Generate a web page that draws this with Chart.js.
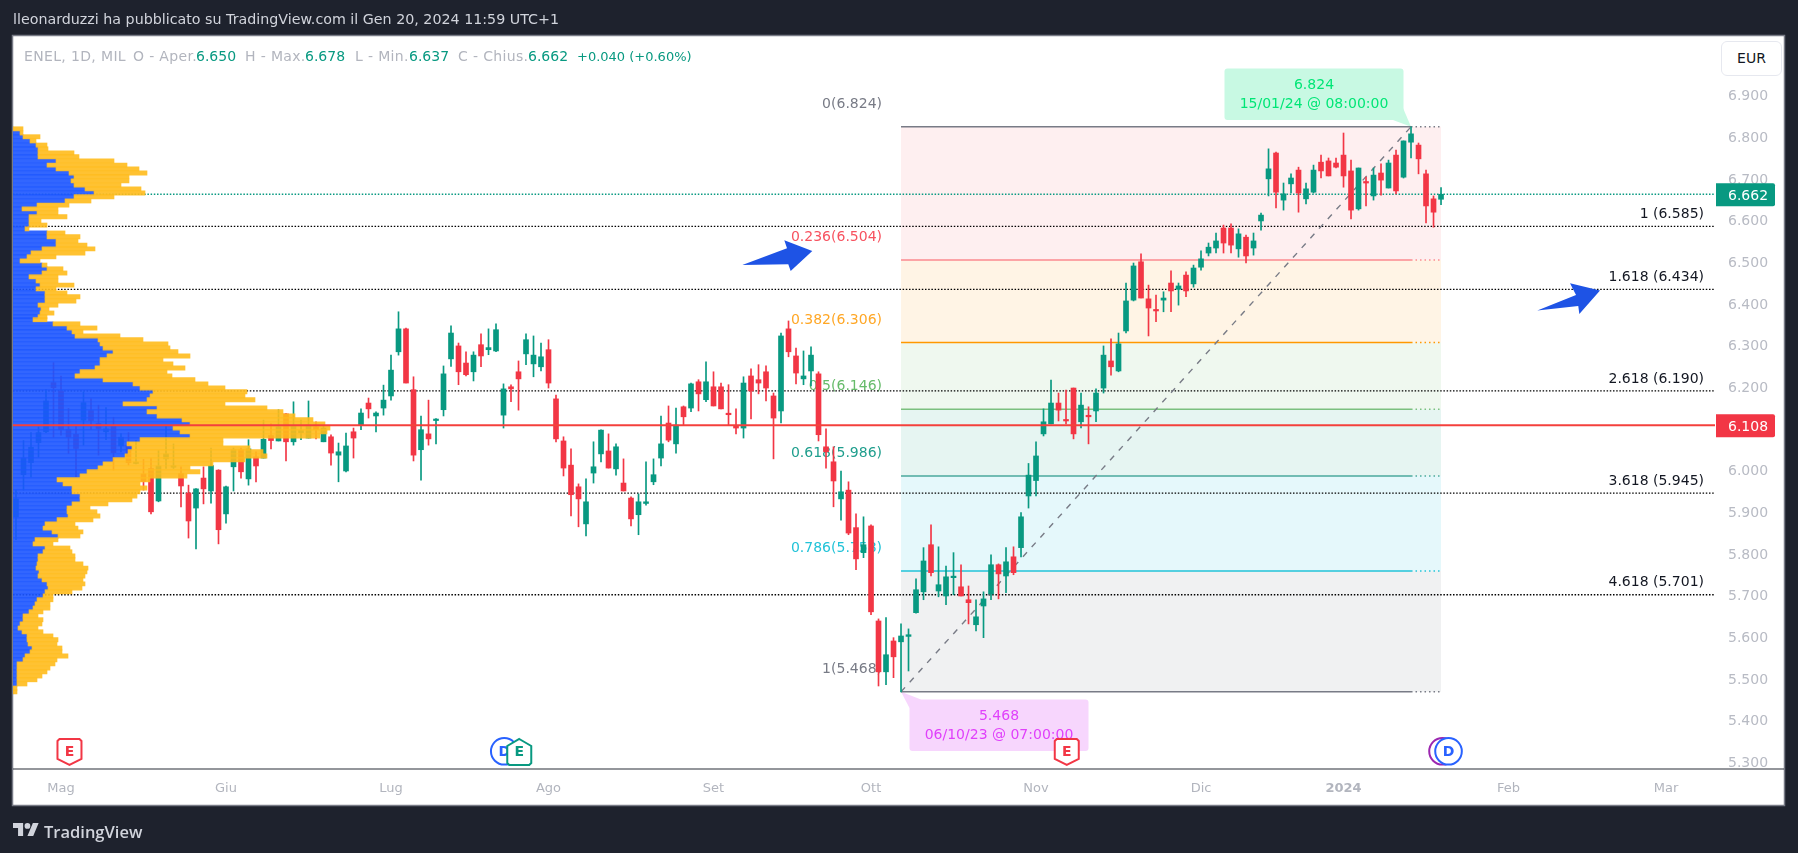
<!DOCTYPE html>
<html>
<head>
<meta charset="utf-8">
<title>ENEL 1D</title>
<script src="https://cdn.jsdelivr.net/npm/chart.js@4"></script>
<style>
  html, body { margin: 0; padding: 0; background: #1e222d; width: 1798px; height: 853px; overflow: hidden; }
  canvas { display: block; position: absolute; left: 0; top: 0; }
  .t { position: absolute; white-space: pre; font-family: 'DejaVu Sans', sans-serif; }
  #head { left: 13px; top: 11px; font-size: 14.25px; color: #d1d4dc; }
  .lg { top: 48px; font-size: 14px; color: #b2b5be; letter-spacing: .35px; }
  .val { top: 48px; font-size: 14px; color: #089981; }
  .chg { top: 49px; font-size: 13px; color: #089981; }
  #eur { left: 1721px; top: 41px; width: 59px; height: 33px; line-height: 33px; text-align: center; font-size: 14px; color: #131722; border: 1px solid #e6e8ef; border-radius: 6px; background: #fff; }
  #logo { position: absolute; left: 13px; top: 823px; }
  #brand { left: 44px; top: 820px; font-family: 'Open Sans', sans-serif; font-weight: 600; font-size: 16.5px; color: #d1d4dc; }
</style>
</head>
<body>
<canvas id="chart" width="1798" height="853"></canvas>
<div class="t" id="head">lleonarduzzi ha pubblicato su TradingView.com il Gen 20, 2024 11:59 UTC+1</div>
<div class="t lg" style="left:24px">ENEL, 1D, MIL</div>
<div class="t lg" style="left:133px">O - Aper.</div><div class="t val" style="left:196px">6.650</div>
<div class="t lg" style="left:245px">H - Max.</div><div class="t val" style="left:305px">6.678</div>
<div class="t lg" style="left:355px">L - Min.</div><div class="t val" style="left:409px">6.637</div>
<div class="t lg" style="left:458px">C - Chius.</div><div class="t val" style="left:528px">6.662</div>
<div class="t chg" style="left:577px">+0.040 (+0.60%)</div>
<div class="t" id="eur">EUR</div>
<svg id="logo" width="26" height="13" viewBox="0 4 36 18"><path fill="#d1d4dc" d="M14 22H7V11H0V4h14v18zM28 22h-8l7.5-18h8L28 22z"/><circle fill="#d1d4dc" cx="20" cy="8" r="4"/></svg>
<div class="t" id="brand">TradingView</div>
<script>
// candles, one per trading day
const opens = [
  5.888,5.989,6.018,6.066,6.092,6.210,6.190,6.098,6.086,6.120,
  6.143,6.112,6.092,6.106,6.058,6.060,6.016,5.991,6.004,5.926,
  6.027,6.007,5.992,5.945,5.909,5.981,5.950,6.000,5.895,6.008,
  6.049,5.979,6.032,6.029,6.083,6.070,6.135,6.068,6.090,6.077,
  6.104,6.068,6.080,6.036,5.998,6.092,6.108,6.161,6.130,6.149,
  6.178,6.284,6.339,6.193,6.049,6.087,6.119,6.145,6.267,6.298,
  6.257,6.236,6.301,6.289,6.286,6.132,6.200,6.236,6.279,6.255,
  6.248,6.289,6.171,6.070,6.012,5.960,5.871,5.993,6.039,6.046,
  6.003,5.969,5.933,5.893,5.920,5.972,6.029,6.113,6.063,6.152,
  6.149,6.212,6.169,6.200,6.200,6.135,6.106,6.101,6.226,6.217,
  6.236,6.178,6.142,6.339,6.274,6.219,6.238,6.231,6.056,6.020,
  5.931,5.952,5.862,5.802,5.866,5.638,5.516,5.590,5.588,5.601,
  5.658,5.708,5.821,5.710,5.698,5.742,5.720,5.689,5.629,5.674,
  5.703,5.773,5.746,5.792,5.814,5.938,5.975,6.087,6.111,6.161,
  6.120,6.197,6.116,6.130,6.142,6.197,6.262,6.238,6.334,6.408,
  6.500,6.411,6.384,6.408,6.449,6.434,6.468,6.447,6.487,6.521,
  6.533,6.581,6.581,6.531,6.559,6.533,6.598,6.699,6.761,6.648,
  6.687,6.720,6.651,6.667,6.739,6.742,6.737,6.756,6.718,6.627,
  6.691,6.658,6.713,6.677,6.756,6.703,6.787,6.780,6.711,6.651,6.650
];
const closes = [
  5.931,6.029,6.055,6.090,6.166,6.198,6.097,6.079,6.052,6.162,
  6.119,6.100,6.099,6.042,6.079,6.018,6.018,5.973,5.900,6.010,
  6.039,6.010,5.962,5.878,5.955,5.955,6.011,5.857,5.960,6.049,
  5.996,6.051,6.010,6.074,6.071,6.104,6.068,6.106,6.095,6.108,
  6.097,6.101,6.041,6.044,6.058,6.077,6.137,6.147,6.137,6.168,
  6.240,6.339,6.209,6.036,6.097,6.075,6.121,6.231,6.329,6.236,
  6.229,6.276,6.274,6.294,6.337,6.195,6.195,6.219,6.313,6.276,
  6.272,6.209,6.075,6.005,5.941,5.931,5.924,6.008,6.096,6.005,
  6.056,5.950,5.883,5.924,5.924,5.989,6.063,6.072,6.108,6.128,
  6.207,6.183,6.212,6.154,6.147,6.133,6.101,6.209,6.190,6.209,
  6.197,6.125,6.322,6.284,6.233,6.226,6.276,6.085,6.044,5.974,
  5.948,5.849,5.787,5.821,5.660,5.516,5.557,5.552,5.602,5.605,
  5.713,5.782,5.754,5.725,5.744,5.744,5.698,5.682,5.648,5.691,
  5.773,5.751,5.780,5.754,5.888,5.988,6.034,6.116,6.161,6.144,
  6.118,6.087,6.156,6.128,6.185,6.276,6.248,6.303,6.406,6.490,
  6.413,6.389,6.382,6.413,6.430,6.442,6.430,6.485,6.507,6.535,
  6.550,6.545,6.540,6.567,6.514,6.550,6.612,6.723,6.667,6.663,
  6.701,6.665,6.675,6.720,6.718,6.706,6.727,6.706,6.624,6.725,
  6.689,6.708,6.696,6.737,6.670,6.790,6.807,6.747,6.634,6.619,6.662
];
const highs = [
  5.952,6.071,6.090,6.104,6.194,6.258,6.226,6.148,6.106,6.188,
  6.172,6.156,6.150,6.127,6.088,6.090,6.071,6.026,6.029,6.047,
  6.105,6.063,6.008,5.964,5.956,6.008,6.053,6.001,5.962,6.053,
  6.053,6.073,6.044,6.120,6.112,6.145,6.136,6.164,6.120,6.166,
  6.116,6.106,6.085,6.065,6.089,6.101,6.147,6.173,6.140,6.204,
  6.276,6.380,6.341,6.224,6.130,6.168,6.124,6.250,6.346,6.305,
  6.284,6.284,6.327,6.339,6.351,6.207,6.205,6.262,6.327,6.322,
  6.305,6.313,6.180,6.080,6.051,5.967,5.979,6.068,6.097,6.087,
  6.063,6.027,5.936,5.943,6.020,6.027,6.130,6.154,6.149,6.154,
  6.209,6.217,6.260,6.236,6.209,6.205,6.147,6.224,6.243,6.253,
  6.250,6.185,6.329,6.358,6.293,6.286,6.296,6.236,6.099,6.056,
  5.998,5.972,5.895,5.888,5.869,5.643,5.646,5.598,5.631,5.619,
  5.739,5.814,5.869,5.816,5.770,5.802,5.773,5.722,5.689,5.708,
  5.797,5.775,5.814,5.816,5.898,6.016,6.068,6.147,6.216,6.185,
  6.192,6.197,6.185,6.152,6.195,6.298,6.315,6.329,6.449,6.497,
  6.519,6.444,6.420,6.428,6.478,6.449,6.476,6.492,6.526,6.545,
  6.569,6.588,6.591,6.579,6.564,6.569,6.617,6.771,6.763,6.689,
  6.711,6.727,6.689,6.732,6.756,6.749,6.749,6.809,6.744,6.725,
  6.703,6.725,6.735,6.744,6.768,6.790,6.824,6.785,6.720,6.658,6.678
];
const lows = [
  5.833,5.952,5.983,6.031,6.090,6.079,6.084,6.040,5.984,6.060,
  6.097,6.036,6.073,6.000,6.044,6.012,6.015,5.952,5.895,5.924,
  6.004,6.004,5.912,5.837,5.811,5.919,5.921,5.823,5.873,5.950,
  5.981,5.964,5.972,6.029,6.051,6.070,6.022,6.060,6.073,6.077,
  6.075,6.068,6.012,5.972,5.996,6.029,6.097,6.125,6.092,6.132,
  6.168,6.276,6.209,6.022,5.976,6.060,6.063,6.130,6.249,6.205,
  6.226,6.214,6.248,6.277,6.284,6.101,6.164,6.144,6.253,6.224,
  6.238,6.197,6.068,5.986,5.890,5.864,5.842,5.969,6.020,6.005,
  5.988,5.950,5.866,5.845,5.916,5.965,6.010,6.068,6.041,6.108,
  6.140,6.142,6.164,6.154,6.147,6.108,6.087,6.077,6.123,6.183,
  6.166,6.027,6.113,6.272,6.207,6.205,6.202,6.070,6.005,5.912,
  5.880,5.845,5.761,5.790,5.653,5.482,5.485,5.502,5.468,5.518,
  5.657,5.689,5.746,5.696,5.677,5.701,5.698,5.631,5.614,5.598,
  5.689,5.691,5.706,5.749,5.792,5.909,5.938,6.082,6.111,6.118,
  6.111,6.075,6.101,6.063,6.116,6.185,6.228,6.236,6.329,6.406,
  6.413,6.322,6.356,6.380,6.380,6.396,6.416,6.439,6.480,6.514,
  6.521,6.521,6.521,6.511,6.497,6.516,6.576,6.658,6.629,6.624,
  6.665,6.619,6.639,6.665,6.701,6.706,6.725,6.679,6.603,6.624,
  6.634,6.648,6.660,6.677,6.663,6.701,6.749,6.711,6.593,6.583,6.637
];

// volume profile rows: price level, buy part, buy + sell total
const volLevels = [
  6.819,6.809,6.800,6.790,6.780,6.771,6.761,6.752,6.742,6.732,6.723,6.713,6.704,6.694,6.684,6.675,
  6.665,6.656,6.646,6.636,6.627,6.617,6.608,6.598,6.588,6.579,6.569,6.560,6.550,6.540,6.531,6.521,
  6.512,6.502,6.492,6.483,6.473,6.464,6.454,6.444,6.435,6.425,6.416,6.406,6.396,6.387,6.377,6.368,
  6.361,6.351,6.341,6.332,6.322,6.313,6.303,6.293,6.284,6.274,6.265,6.255,6.245,6.236,6.226,6.217,
  6.207,6.197,6.188,6.178,6.169,6.159,6.149,6.140,6.130,6.121,6.111,6.101,6.092,6.082,6.073,6.063,
  6.053,6.044,6.034,6.025,6.015,6.005,5.996,5.986,5.977,5.967,5.957,5.948,5.938,5.929,5.919,5.909,
  5.900,5.890,5.881,5.871,5.861,5.852,5.842,5.833,5.823,5.813,5.804,5.794,5.785,5.775,5.765,
  5.756,5.746,5.737,5.727,5.717,5.708,5.698,5.689,5.679,5.669,5.660,5.650,5.641,5.631,5.621,5.612,
  5.602,5.593,5.583,5.573,5.564,5.554,5.545,5.535,5.525,5.516,5.506,5.497,5.487,5.477,5.468
];
const volBuy = [
  0,7,10,17,23,25,25,25,43,34,43,56,61,58,61,72,
  81,61,52,24,9,24,16,16,16,12,34,34,43,43,29,18,
  14,7,29,34,29,16,23,27,23,32,32,32,25,28,27,25,
  20,40,54,59,62,85,87,90,100,94,87,87,82,67,62,90,
  120,127,140,137,134,110,144,134,144,169,177,160,167,177,127,114,
  119,115,112,100,90,85,74,67,44,50,59,59,67,67,59,54,
  54,55,44,32,30,39,45,22,20,32,30,25,25,24,23,
  26,25,29,34,35,32,30,24,22,20,16,10,10,7,5,9,
  14,14,15,19,17,12,10,4,4,4,4,4,4,0,0
];
const volTotal = [
  10,10,27,23,34,35,61,66,101,114,126,134,116,116,108,128,
  132,101,78,56,45,45,54,28,34,16,52,67,65,74,82,72,
  43,27,34,50,54,45,45,61,43,54,67,63,45,36,41,34,
  34,67,84,70,107,130,155,157,165,177,150,160,172,154,159,182,
  195,212,234,232,242,212,254,270,282,300,312,317,314,307,210,210,
  237,250,254,232,200,177,187,174,137,127,134,127,124,119,95,77,
  84,87,80,62,65,70,67,45,40,57,59,62,62,70,75,
  74,72,70,72,69,59,40,40,37,37,30,25,30,29,25,30,
  40,45,44,49,49,55,44,42,37,34,29,24,14,4,4
];

// fibonacci retracement drawn on the chart
const fibStart = 118, fibEnd = 186, fibRight = 190;
const fibRatios = ['0', '0.236', '0.382', '0.5', '0.618', '0.786', '1'];
const fibPrices = [6.824, 6.504, 6.306, 6.146, 5.986, 5.758, 5.468];
const fibLineColors = ['#787b86', '#fb8a8f', '#ff9800', '#7cc07f', '#4aa99c', '#22c3d8', '#787b86'];
const fibTextColors = ['#787b86', '#f7525f', '#ffa726', '#66bb6a', '#1f9e8d', '#22c3d8', '#787b86'];
const fibFills = ['rgba(242,54,69,.08)', 'rgba(255,152,0,.1)', 'rgba(76,175,80,.09)', 'rgba(8,153,129,.1)', 'rgba(0,188,212,.1)', 'rgba(120,123,134,.11)'];

// fibonacci extension, dotted across the whole pane
const extRatios = ['1', '1.618', '2.618', '3.618', '4.618'];
const extPrices = [6.585, 6.434, 6.190, 5.945, 5.701];

const lastPrice = 6.662;
const pocPrice = 6.108;

// time axis
const monthBars = [6, 28, 50, 71, 93, 114, 136, 158, 177, 199, 220];
const monthNames = ['Mag', 'Giu', 'Lug', 'Ago', 'Set', 'Ott', 'Nov', 'Dic', '2024', 'Feb', 'Mar'];
const priceTicks = [6.9, 6.8, 6.7, 6.6, 6.5, 6.4, 6.3, 6.2, 6.1, 6, 5.9, 5.8, 5.7, 5.6, 5.5, 5.4, 5.3];

// hand-drawn arrows as [bar, price] corners
const arrowLeft = [[96.84, 6.4925], [102.8, 6.5325], [102.44, 6.5517], [106.17, 6.526], [103.29, 6.4781], [102.97, 6.4941]];
const arrowRight = [[202.84, 6.3828], [208, 6.4205], [207.2, 6.4486], [211.2, 6.4308], [208.44, 6.3749], [208.3, 6.3941]];

// events under the bars
const earningsRed = [7.13, 140.1];
const earningsGreen = [67.1];
const dividends = [65.1, 191];
const splitMark = [190.2];

const FONT = "'DejaVu Sans', sans-serif";
const UP = '#089981', DOWN = '#f23645';
const barColors = opens.map((o, i) => closes[i] >= o ? UP : DOWN);

function lineSet(points, color, width, dash, order) {
  return { type: 'line', data: points, borderColor: color, borderWidth: width, borderDash: dash, pointRadius: 0, fill: false, order: order, xAxisID: 'x', yAxisID: 'y' };
}

const datasets = [];

// bands between fib levels
fibFills.forEach((c, i) => {
  datasets.push({
    type: 'line', order: 9, pointRadius: 0, borderWidth: 0, backgroundColor: c,
    fill: { value: fibPrices[i + 1] },
    data: [{ x: fibStart, y: fibPrices[i] }, { x: fibRight, y: fibPrices[i] }]
  });
});

// dotted price lines
extPrices.forEach(p => {
  datasets.push(lineSet([{ x: -0.4, y: p }, { x: 226.53, y: p }], '#000', 1.3, [1.5, 1.7], 8));
});
datasets.push(lineSet([{ x: -0.4, y: lastPrice }, { x: 226.53, y: lastPrice }], UP, 1.3, [1.5, 1.7], 8));

// fib level lines, solid then dotted past the high
fibPrices.forEach((p, i) => {
  datasets.push(lineSet([{ x: fibStart, y: p }, { x: fibEnd, y: p }], fibLineColors[i], 1.5, [], 7));
  datasets.push(lineSet([{ x: fibEnd, y: p }, { x: fibRight, y: p }], fibLineColors[i], 1.5, [1.5, 3], 7));
});

// trend line of the retracement
datasets.push(lineSet([{ x: fibStart, y: fibPrices[6] }, { x: fibEnd, y: fibPrices[0] }], '#787b86', 1.4, [6, 7], 6));

// candles: wick then body
datasets.push({
  type: 'bar', order: 4, grouped: false, barThickness: 1, minBarLength: 1,
  backgroundColor: barColors,
  data: opens.map((o, i) => ({ x: i, y: [lows[i], highs[i]] }))
});
datasets.push({
  type: 'bar', order: 3, grouped: false, barThickness: 5, minBarLength: 1.5,
  backgroundColor: barColors,
  data: opens.map((o, i) => ({ x: i, y: [o, closes[i]] }))
});

// volume profile on top of the candles
datasets.push({
  type: 'bar', order: 1, indexAxis: 'y', grouped: false, barThickness: 4.2, xAxisID: 'xVol', yAxisID: 'y',
  backgroundColor: 'rgba(255,187,28,.9)',
  data: volLevels.map((l, i) => ({ x: [volBuy[i], volTotal[i]], y: l }))
});
datasets.push({
  type: 'bar', order: 2, indexAxis: 'y', grouped: false, barThickness: 4.2, xAxisID: 'xVol', yAxisID: 'y',
  backgroundColor: 'rgba(28,85,255,.9)',
  data: volLevels.map((l, i) => ({ x: [0, volBuy[i]], y: l }))
});

// point of control, over everything
datasets.push(lineSet([{ x: -0.4, y: pocPrice }, { x: 226.53, y: pocPrice }], '#f4403c', 2, [], 0));

function poly(ctx, pts, color) {
  ctx.beginPath();
  pts.forEach((p, i) => i ? ctx.lineTo(p[0], p[1]) : ctx.moveTo(p[0], p[1]));
  ctx.closePath();
  ctx.fillStyle = color;
  ctx.fill();
}

function callout(ctx, x, y, w, h, tip, color, textColor, lines) {
  poly(ctx, tip, color);
  ctx.beginPath();
  ctx.roundRect(x, y, w, h, 3);
  ctx.fillStyle = color;
  ctx.fill();
  ctx.fillStyle = textColor;
  ctx.font = '14px ' + FONT;
  ctx.textAlign = 'center';
  ctx.textBaseline = 'middle';
  ctx.fillText(lines[0], x + w / 2, y + 17);
  ctx.fillText(lines[1], x + w / 2, y + 35.5);
}

function shield(ctx, cx, color, pointDown) {
  const l = cx - 12, r = cx + 12, t = 739, b = 765;
  ctx.beginPath();
  if (pointDown) {
    ctx.moveTo(l, t + 2); ctx.lineTo(l + 2, t); ctx.lineTo(r - 2, t); ctx.lineTo(r, t + 2);
    ctx.lineTo(r, b - 6); ctx.lineTo(cx, b); ctx.lineTo(l, b - 6);
  } else {
    ctx.moveTo(cx, t); ctx.lineTo(r, t + 7); ctx.lineTo(r, b - 2); ctx.lineTo(r - 2, b);
    ctx.lineTo(l + 2, b); ctx.lineTo(l, b - 2); ctx.lineTo(l, t + 7);
  }
  ctx.closePath();
  ctx.fillStyle = '#fff';
  ctx.fill();
  ctx.strokeStyle = color;
  ctx.lineWidth = 2;
  ctx.stroke();
  ctx.fillStyle = color;
  ctx.font = 'bold 14px ' + FONT;
  ctx.textAlign = 'center';
  ctx.textBaseline = 'middle';
  ctx.fillText('E', cx, 752);
}

function circleMark(ctx, cx, color, letter) {
  ctx.beginPath();
  ctx.arc(cx, 751.3, 13.3, 0, Math.PI * 2);
  ctx.fillStyle = '#fff';
  ctx.fill();
  ctx.strokeStyle = color;
  ctx.lineWidth = 2;
  ctx.stroke();
  if (letter) {
    ctx.fillStyle = color;
    ctx.font = 'bold 14px ' + FONT;
    ctx.textAlign = 'center';
    ctx.textBaseline = 'middle';
    ctx.fillText(letter, cx, 752);
  }
}

function priceTag(ctx, scale, price, color) {
  const y = scale.getPixelForValue(price);
  ctx.fillStyle = color;
  ctx.beginPath();
  ctx.roundRect(scale.left + 1, y - 11, 59, 23, [0, 2, 2, 0]);
  ctx.fill();
  ctx.fillStyle = '#fff';
  ctx.font = '14px ' + FONT;
  ctx.textAlign = 'left';
  ctx.textBaseline = 'middle';
  ctx.fillText(price.toFixed(3), scale.left + 13, y + 2);
}

const framePlugin = {
  id: 'frame',
  beforeDraw(chart) {
    const { ctx, chartArea: a } = chart;
    const right = chart.scales.y.right, bottom = chart.scales.x.bottom;
    ctx.save();
    ctx.fillStyle = '#fff';
    ctx.fillRect(a.left, a.top, right - a.left, bottom - a.top);
    ctx.strokeStyle = '#787b86';
    ctx.lineWidth = 1.5;
    ctx.strokeRect(a.left - 0.5, a.top - 0.5, right - a.left + 1, bottom - a.top + 1);
    ctx.restore();
  }
};

// everything that sits under the candles
const drawingsPlugin = {
  id: 'drawings',
  beforeDatasetsDraw(chart) {
    const { ctx, scales: { x, y } } = chart;
    ctx.save();
    ctx.textBaseline = 'middle';
    ctx.font = '14px ' + FONT;
    ctx.textAlign = 'right';
    fibRatios.forEach((r, i) => {
      ctx.fillStyle = fibTextColors[i];
      ctx.fillText(r + '(' + fibPrices[i].toFixed(3) + ')', x.getPixelForValue(fibStart) - 19, y.getPixelForValue(fibPrices[i]) - 22.5);
    });
    ctx.fillStyle = '#131722';
    extRatios.forEach((r, i) => {
      ctx.fillText(r + ' (' + extPrices[i].toFixed(3) + ')', x.right - 11, y.getPixelForValue(extPrices[i]) - 12);
    });
    const hx = x.getPixelForValue(fibEnd), hy = y.getPixelForValue(fibPrices[0]);
    callout(ctx, 1224.5, 68.5, 179, 51.5, [[1403, 108], [hx, hy], [1393, 120]], '#c8f9e3', '#00e676', ['6.824', '15/01/24 @ 08:00:00']);
    const lx = x.getPixelForValue(fibStart), ly = y.getPixelForValue(fibPrices[6]);
    callout(ctx, 909.5, 699.5, 179, 51.5, [[lx, ly], [909.5, 708], [921, 699.5]], '#f7d6fd', '#e040fb', ['5.468', '06/10/23 @ 07:00:00']);
    ctx.restore();
  },
  afterDraw(chart) {
    const { ctx, scales: { x, y } } = chart;
    ctx.save();
    // axis separator
    ctx.strokeStyle = '#2a2e39';
    ctx.lineWidth = 1.2;
    ctx.beginPath();
    ctx.moveTo(x.left, x.top);
    ctx.lineTo(y.right, x.top);
    ctx.stroke();
    [arrowLeft, arrowRight].forEach(a => poly(ctx, a.map(p => [x.getPixelForValue(p[0]), y.getPixelForValue(p[1])]), '#1e53e5'));
    splitMark.forEach(b => circleMark(ctx, x.getPixelForValue(b), '#9c27b0', ''));
    dividends.forEach(b => circleMark(ctx, x.getPixelForValue(b), '#2962ff', 'D'));
    earningsRed.forEach(b => shield(ctx, x.getPixelForValue(b), DOWN, true));
    earningsGreen.forEach(b => shield(ctx, x.getPixelForValue(b), UP, false));
    priceTag(ctx, y, lastPrice, UP);
    priceTag(ctx, y, pocPrice, DOWN);
    ctx.restore();
  }
};

new Chart(document.getElementById('chart'), {
  type: 'bar',
  data: { datasets: datasets },
  plugins: [framePlugin, drawingsPlugin],
  options: {
    responsive: false,
    animation: false,
    devicePixelRatio: 1,
    layout: { padding: { left: 13, right: 14, top: 36, bottom: 48 } },
    plugins: { legend: { display: false }, tooltip: { enabled: false } },
    scales: {
      x: {
        type: 'linear', min: -0.4, max: 226.53, offset: false,
        grid: { display: false, offset: false, drawTicks: false },
        border: { display: false },
        afterBuildTicks: s => { s.ticks = monthBars.map(v => ({ value: v })); },
        afterFit: s => { s.height = 36; },
        ticks: {
          autoSkip: false, maxRotation: 0, padding: 12, color: '#b2b5be',
          font: ctx => ({ family: FONT, size: 13, weight: ctx.tick && ctx.tick.value === 177 ? 'bold' : 'normal' }),
          callback: v => monthNames[monthBars.indexOf(v)]
        }
      },
      xVol: { type: 'linear', axis: 'x', display: false, min: 0, max: 1702, offset: false, grid: { display: false, offset: false } },
      y: {
        type: 'linear', position: 'right', min: 5.2828, max: 7.0418, offset: false, beginAtZero: false,
        grid: { display: false, offset: false, drawTicks: false },
        border: { display: false },
        afterBuildTicks: s => { s.ticks = priceTicks.map(v => ({ value: v })); },
        afterFit: s => { s.width = 69; },
        ticks: {
          autoSkip: false, padding: 13, labelOffset: 1.5, color: '#b8bbc4',
          font: { family: FONT, size: 14 },
          callback: v => v.toFixed(3)
        }
      }
    }
  }
});
</script>
</body>
</html>
